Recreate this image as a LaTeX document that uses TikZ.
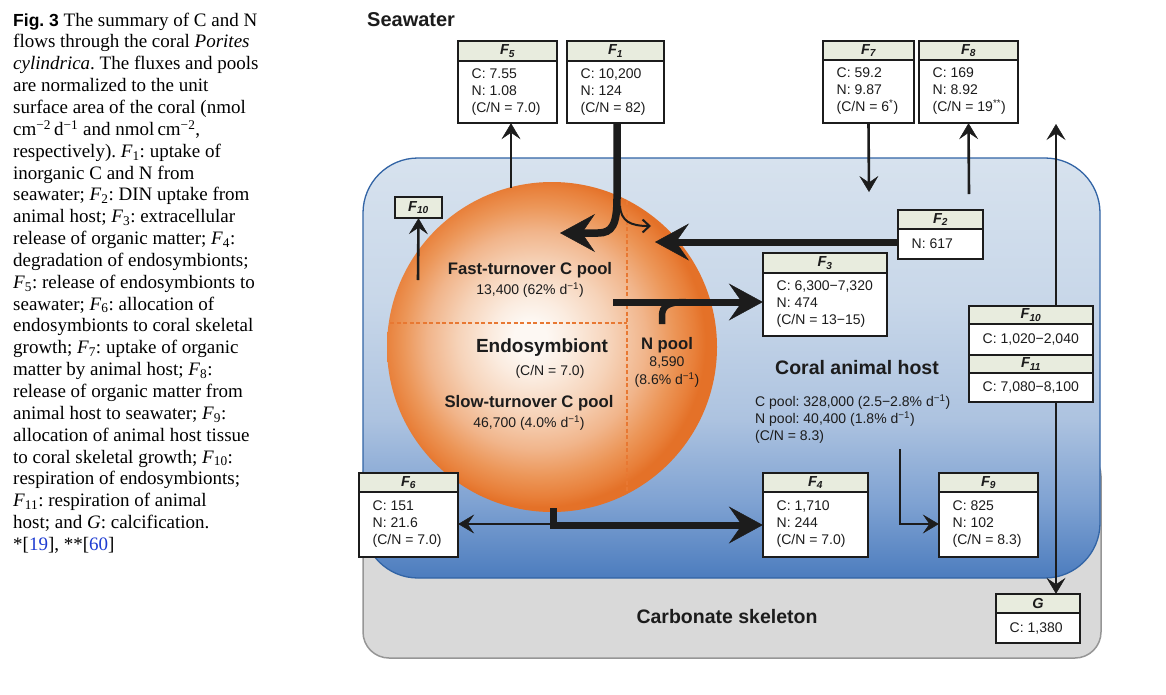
\documentclass[tikz,border=0pt]{standalone}
\usepackage{fontspec}
\setmainfont{Liberation Serif}
\setsansfont{Liberation Sans}
\usetikzlibrary{arrows.meta,fit,calc}
\frenchspacing

\definecolor{hdr}{RGB}{232,236,222}
\definecolor{grayfill}{RGB}{217,217,217}
\definecolor{grayline}{RGB}{150,150,150}
\definecolor{blueline}{RGB}{50,100,165}
\definecolor{bA}{RGB}{215,226,238}
\definecolor{bB}{RGB}{200,215,233}
\definecolor{bC}{RGB}{173,195,224}
\definecolor{bD}{RGB}{127,162,210}
\definecolor{bE}{RGB}{76,124,190}
\definecolor{oA}{RGB}{253,248,243}
\definecolor{oB}{RGB}{251,236,224}
\definecolor{oC}{RGB}{246,211,185}
\definecolor{oD}{RGB}{241,181,139}
\definecolor{oE}{RGB}{236,150,88}
\definecolor{oF}{RGB}{232,127,57}
\definecolor{oG}{RGB}{228,113,40}
\definecolor{dashor}{RGB}{232,120,50}
\definecolor{ink}{RGB}{28,28,28}
\definecolor{linkblue}{RGB}{30,60,210}

% TikZ maps the central 50bp of a shading onto the path's bounding box
\pgfdeclareverticalshading{bluebg}{100bp}{color(0bp)=(bE); color(25bp)=(bE); color(34bp)=(bD); color(44bp)=(bC); color(58bp)=(bB); color(75bp)=(bA); color(100bp)=(bA)}
\pgfdeclareradialshading{sphshade}{\pgfpoint{-3.5bp}{1.5bp}}{color(0bp)=(oA); color(2.5bp)=(oA); color(6bp)=(oB); color(11.5bp)=(oC); color(16.5bp)=(oD); color(20.5bp)=(oE); color(23.5bp)=(oF); color(25bp)=(oG); color(50bp)=(oG)}

\tikzset{
  fbx/.style={draw=ink, line width=1.8pt},
  hdrtxt/.style={font=\sffamily\bfseries\itshape\fontsize{14.5}{15}\selectfont, inner sep=0pt, text=ink},
  bodytxt/.style={font=\sffamily\fontsize{14}{17}\selectfont, align=left, inner sep=0pt, anchor=west, text=ink},
  regtxt/.style={font=\sffamily\fontsize{14}{17}\selectfont, inner sep=0pt, text=ink},
  boldtxt/.style={font=\sffamily\bfseries\fontsize{16.7}{18}\selectfont, inner sep=0pt, text=ink},
  bigtxt/.style={font=\sffamily\bfseries\fontsize{19.5}{21}\selectfont, inner sep=0pt, text=ink},
  thinarr/.style={draw=ink, line width=2.6pt, -{Stealth[length=16pt,width=19pt,inset=6.5pt,line width=0.5pt]}},
  bigarr/.style={draw=ink, line width=7pt, -{Stealth[length=34pt,width=37pt,inset=13pt,line width=0.5pt]}},
  dashline/.style={draw=dashor, line width=1.2pt, dash pattern=on 4pt off 2.5pt},
}

% name, x1, y1, x2, y-header-bottom, y2, header, body
\newcommand\fluxbox[8]{%
  \path[fbx, fill=hdr] (#2,#3) rectangle (#4,#5);
  \path[fbx, fill=white] (#2,#5) rectangle (#4,#6);
  \node[fit={(#2,#3) (#4,#6)}, inner sep=0pt] (#1) {};
  \node[hdrtxt] (#1h) at ({(#2+#4)/2},{(#3+#5)/2}) {#7};
  \node[bodytxt] (#1b) at ({#2+13.5},{(#5+#6)/2}) {#8};
}
\newcommand\Fsub[1]{\textit{F}\textsubscript{#1}}

\begin{document}
\begin{tikzpicture}[x=1pt,y=-1pt]
\useasboundingbox (0,0) rectangle (1166,694);
\fill[white] (0,0) rectangle (1166,694);

% caption
\node[anchor=north west, align=left, inner sep=0pt, font=\fontsize{19}{21.85}\selectfont] (cap) at (13,12.5) {%
{\sffamily\bfseries\fontsize{17.5}{21.85}\selectfont Fig.~3} The summary of C and N\\
flows through the coral \textit{Porites}\\
\textit{cylindrica}. The fluxes and pools\\
are normalized to the unit\\
surface area of the coral (nmol\\
cm\textsuperscript{−2}\,d\textsuperscript{−1} and nmol\,cm\textsuperscript{−2},\\
respectively). \Fsub{1}: uptake of\\
inorganic C and N from\\
seawater; \Fsub{2}: DIN uptake from\\
animal host; \Fsub{3}: extracellular\\
release of organic matter; \Fsub{4}:\\
degradation of endosymbionts;\\
\Fsub{5}: release of endosymbionts to\\
seawater; \Fsub{6}: allocation of\\
endosymbionts to coral skeletal\\
growth; \Fsub{7}: uptake of organic\\
matter by animal host; \Fsub{8}:\\
release of organic matter from\\
animal host to seawater; \Fsub{9}:\\
allocation of animal host tissue\\
to coral skeletal growth; \Fsub{10}:\\
respiration of endosymbionts;\\
\Fsub{11}: respiration of animal\\
host; and \textit{G}: calcification.\\
{*}[{\color{linkblue}19}], **[{\color{linkblue}60}]};

% compartments
\path[draw=grayline, line width=1.5pt, fill=grayfill, rounded corners=26pt] (363,450) rectangle (1101,658);
\path[draw=blueline, line width=1.3pt, shading=bluebg, rounded corners=55pt] (363,158) rectangle (1100,578);

\node[circle, minimum size=330pt, inner sep=0pt, shading=sphshade] (sph) at (552,347) {};
\draw[dashline] (627,201) -- (627,493);
\draw[dashline] (390,323) -- (627,323);

% labels
\node[bigtxt, anchor=west, font=\sffamily\bfseries\fontsize{20}{22}\selectfont] (sea) at (367,20) {Seawater};
\node[boldtxt] (fast) at (530,270) {Fast-turnover C pool};
\node[regtxt] (fastv) at (530,290) {13,400 (62\% d\textsuperscript{−1})};
\node[bigtxt, font=\sffamily\bfseries\fontsize{19}{21}\selectfont] (endo) at (542,348) {Endosymbiont};
\node[regtxt] (endocn) at (550,372) {(C/N = 7.0)};
\node[boldtxt] (slow) at (529,403) {Slow-turnover C pool};
\node[regtxt] (slowv) at (529,423) {46,700 (4.0\% d\textsuperscript{−1})};
\node[boldtxt] (npool) at (667,345) {N pool};
\node[regtxt] (npoolv) at (667,362) {8,590};
\node[regtxt] (npoolr) at (667,380) {(8.6\% d\textsuperscript{−1})};
\node[bigtxt] (host) at (857,368) {Coral animal host};
\node[bodytxt] (hostp) at (755,419) {C pool: 328,000 (2.5−2.8\% d\textsuperscript{−1})\\N pool: 40,400 (1.8\% d\textsuperscript{−1})\\(C/N = 8.3)};
\node[bigtxt] (carb) at (727,617) {Carbonate skeleton};

% free ends
\coordinate (f5s) at (511,188);
\coordinate (f10s) at (418,280);
\coordinate (f7e) at (869,192);
\coordinate (f8s) at (969,194);
\coordinate (rtop) at (1056,124);
\coordinate (f9s) at (900,449);
\coordinate (f4s) at (553,508);
\coordinate (f6s) at (553,524);
\coordinate (f2e) at (655,242);
\coordinate (f3s) at (613,302);
\coordinate (nps) at (662,324);
\coordinate (npj) at (686,302);
\coordinate (f1l) at (560,233);
\coordinate (f1b) at (620,206);
\coordinate (f1r) at (651,226);

% boxes
\fluxbox{F5}{458}{41}{557}{61}{123}{\Fsub{5}}{C: 7.55\\N: 1.08\\(C/N = 7.0)}
\fluxbox{F1}{567}{41}{664}{61}{123}{\Fsub{1}}{C: 10,200\\N: 124\\(C/N = 82)}
\fluxbox{F7}{823}{41}{914}{60}{123}{\Fsub{7}}{C: 59.2\\N: 9.87\\(C/N = 6\textsuperscript{*})}
\fluxbox{F8}{919}{41}{1018}{60}{123}{\Fsub{8}}{C: 169\\N: 8.92\\(C/N = 19\textsuperscript{**})}
\fluxbox{F2}{898}{210}{983}{229}{259}{\Fsub{2}}{N: 617}
\fluxbox{F3}{763}{253}{887}{273}{336}{\Fsub{3}}{C: 6,300−7,320\\N: 474\\(C/N = 13−15)}
\fluxbox{F10r}{969}{306}{1093}{324}{355}{\Fsub{10}}{C: 1,020−2,040}
\fluxbox{F11r}{969}{355}{1093}{373}{402}{\Fsub{11}}{C: 7,080−8,100}
\fluxbox{F6}{359}{473}{458}{492}{557}{\Fsub{6}}{C: 151\\N: 21.6\\(C/N = 7.0)}
\fluxbox{F4}{763}{473}{868}{492}{557}{\Fsub{4}}{C: 1,710\\N: 244\\(C/N = 7.0)}
\fluxbox{F9}{939}{473}{1038}{492}{557}{\Fsub{9}}{C: 825\\N: 102\\(C/N = 8.3)}
\fluxbox{G}{996}{594}{1080}{613}{643}{\textit{G}}{C: 1,380}
\path[fbx, fill=hdr] (395,197) rectangle (442,218);
\node[fit={(395,197) (442,218)}, inner sep=0pt] (F10s) {};
\node[hdrtxt] (F10sh) at (418.5,207.5) {\Fsub{10}};

% connectors
\draw[thinarr] (f5s) -- ([xshift=3.5pt]F5.south);
\draw[thinarr] (f10s) -- (F10s.south);
\draw[thinarr] (F7.south) -- (f7e);
\draw[thinarr] (f8s) -- (F8.south);
\draw[thinarr] ([xshift=25pt]F10r.north) -- (rtop);
\draw[thinarr] ([xshift=25pt]F11r.south) -- ([xshift=18pt]G.north);
\draw[thinarr, line width=2.4pt] (f9s) |- ([yshift=-9pt]F9.west);
\draw[bigarr] (f4s) |- ([yshift=-10pt]F4.west);
\draw[thinarr, line width=2.2pt] (f6s) -- ([yshift=-9pt]F6.east);
\draw[bigarr] ([yshift=-7.5pt]F2.west) -- (f2e);
\draw[bigarr] (f3s) -- ([yshift=-7.5pt]F3.west);
\draw[draw=ink, line width=6.5pt] (nps) -- (662,316) .. controls (662,306) and (668,302) .. (npj);
\draw[draw=ink, line width=7.5pt, -{Stealth[length=35pt,width=38pt,inset=13pt,line width=0.5pt]}]
  ([xshift=1.5pt]F1.south) -- (617,198) .. controls (617,225) and (612,233) .. (598,233) -- (f1l);
\draw[draw=ink, line width=2pt, -{Straight Barb[length=7pt,width=13pt,line width=2pt]}]
  (f1b) .. controls (621,221) and (630,226) .. (f1r);
\end{tikzpicture}
\end{document}
